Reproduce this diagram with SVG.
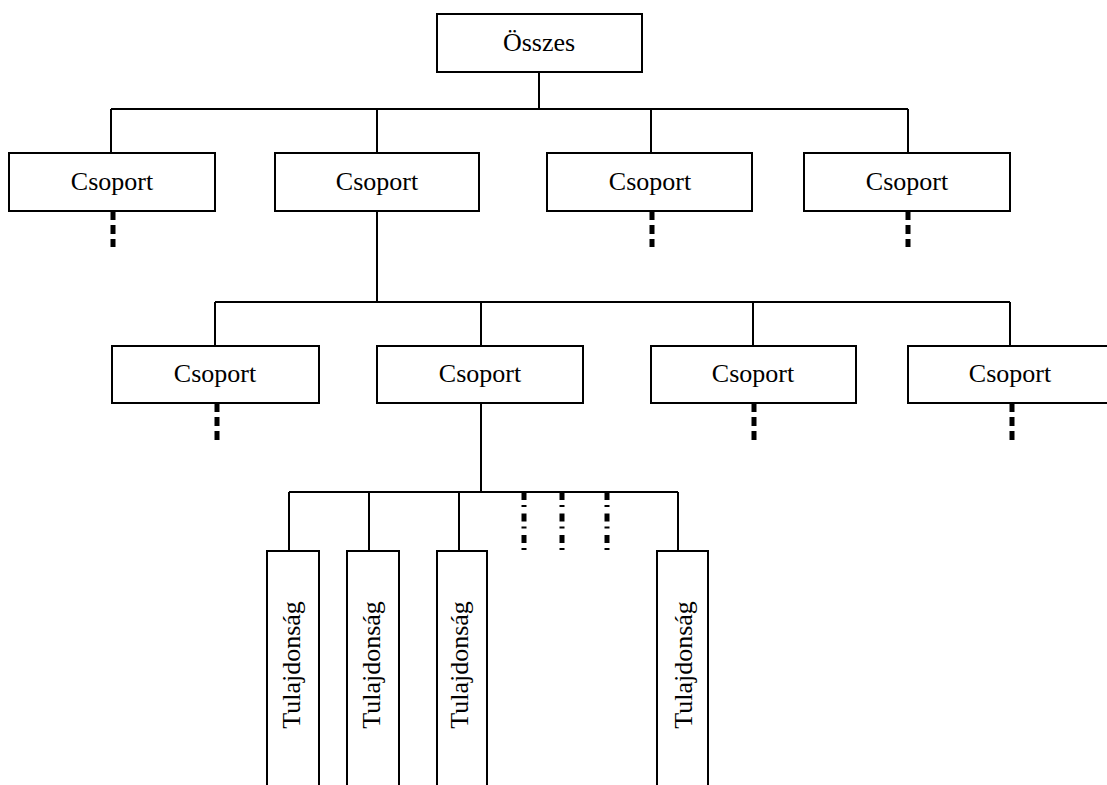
<svg xmlns="http://www.w3.org/2000/svg" width="1107" height="785" viewBox="0 0 1107 785">
<style>
.box{fill:#fff;stroke:#000;stroke-width:2}
.t{font-family:"Liberation Serif","Times New Roman",serif;font-size:26px;fill:#000;text-anchor:middle}
.ln{stroke:#000;stroke-width:2;fill:none}
.dash{stroke:#000;stroke-width:5;fill:none;stroke-dasharray:9,5}
.dd{stroke:#000;stroke-width:5;fill:none;stroke-dasharray:8,5,2,6.5}
</style>
<rect width="1107" height="785" fill="#fff"/>
<g id="connectors">
<path class="ln" d="M539 72V109M111 109H908M111 109V153M377 109V153M651 109V153M908 109V153"/>
<path class="ln" d="M377 211V302M215 302H1010M215 302V346M481 302V346M753 302V346M1010 302V346"/>
<path class="ln" d="M481 403V492M289 492H678M289 492V551M369 492V551M459 492V551M678 492V551"/>
<path class="dash" d="M113 211V247M652 211V247M908 211V247"/>
<path class="dash" d="M217 403V440M754 403V440M1012 403V440"/>
<path class="dd" d="M524 492V552M562 492V552M607 492V552"/>
</g>
<g id="n-osszes"><rect class="box" x="437" y="14" width="205" height="58"/><text class="t" x="539" y="51">Összes</text></g>
<g id="n-l1a"><rect class="box" x="9" y="153" width="206" height="58"/><text class="t" x="112" y="190">Csoport</text></g>
<g id="n-l1b"><rect class="box" x="275" y="153" width="204" height="58"/><text class="t" x="377" y="190">Csoport</text></g>
<g id="n-l1c"><rect class="box" x="547" y="153" width="205" height="58"/><text class="t" x="650" y="190">Csoport</text></g>
<g id="n-l1d"><rect class="box" x="804" y="153" width="206" height="58"/><text class="t" x="907" y="190">Csoport</text></g>
<g id="n-l2a"><rect class="box" x="112" y="346" width="207" height="57"/><text class="t" x="215" y="382">Csoport</text></g>
<g id="n-l2b"><rect class="box" x="377" y="346" width="206" height="57"/><text class="t" x="480" y="382">Csoport</text></g>
<g id="n-l2c"><rect class="box" x="651" y="346" width="205" height="57"/><text class="t" x="753" y="382">Csoport</text></g>
<g id="n-l2d"><rect class="box" x="908" y="346" width="210" height="57"/><text class="t" x="1010" y="382">Csoport</text></g>
<g id="n-p1"><rect class="box" x="267" y="551" width="52" height="250"/><text class="t" transform="translate(300,665) rotate(-90)">Tulajdonság</text></g>
<g id="n-p2"><rect class="box" x="347" y="551" width="52" height="250"/><text class="t" transform="translate(380,665) rotate(-90)">Tulajdonság</text></g>
<g id="n-p3"><rect class="box" x="437" y="551" width="50" height="250"/><text class="t" transform="translate(468,665) rotate(-90)">Tulajdonság</text></g>
<g id="n-p4"><rect class="box" x="657" y="551" width="51" height="250"/><text class="t" transform="translate(692,665) rotate(-90)">Tulajdonság</text></g>
</svg>
